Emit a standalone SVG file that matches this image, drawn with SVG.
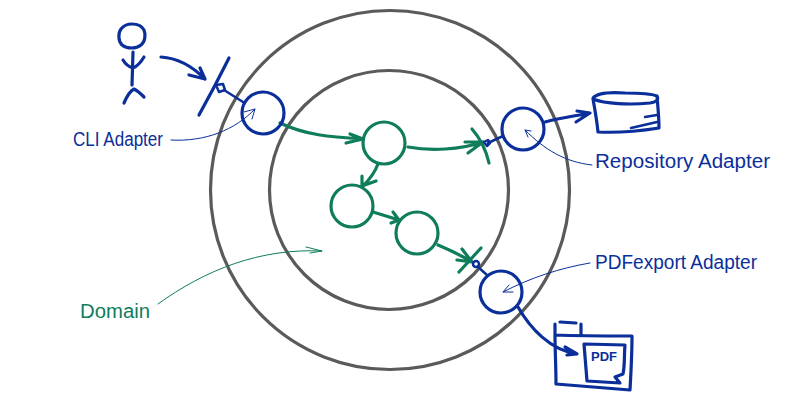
<svg xmlns="http://www.w3.org/2000/svg" width="800" height="400" viewBox="0 0 800 400">
<style>
text{font-family:"Liberation Sans",Arial,sans-serif}
path,circle,ellipse{fill:none;stroke-linecap:round;stroke-linejoin:round}
.ring{stroke:#5a5a5a;stroke-width:3.2}
.b{stroke:#0b2f9a;stroke-width:3.2}
.bt{stroke:#0b2f9a;stroke-width:2.5}
.g{stroke:#0f7d5c;stroke-width:3.2}
.lb{stroke:#0b2f9a;stroke-width:1}
.lg{stroke:#0f7d5c;stroke-width:1}
.tb{fill:#0b2f9a;font-size:20px}
.tg{fill:#0f7d5c;font-size:20px}
</style>
<rect width="800" height="400" fill="#ffffff"/>
<g id="application-ring"><circle class="ring" cx="390" cy="190" r="179.500"/></g>
<g id="domain-ring"><circle class="ring" cx="389" cy="190" r="119.500"/></g>
<g id="connectors">
<path class="b" d="M161 57C178 58 192 66 205 79M189 75L205 79L200 68"/>
<path class="bt" d="M224 90L243 102"/>
<path class="g" d="M280 123C305 135 330 137 363 139M350 134L363 139L346 143"/>
<path class="g" d="M408 147C430 151 460 150 483 142M465 142L483 142L468 153"/>
<path class="g" d="M378 164C375 172 370 179 363 186M362 176L362 186L376 181"/>
<path class="g" d="M373 212L399 220M393 212L399 220L391 223"/>
<path class="g" d="M438 245C450 250 462 256 472 262M462 249L472 262L457 260"/>
<path class="bt" d="M488 143L503 136"/>
<path class="bt" d="M478 267L487 275"/>
<path class="b" d="M545 122C560 118 575 116 590 113M577 111L590 113L576 122"/>
<path class="b" d="M518 307C530 328 550 350 577 354M565 347L577 354L567 355"/>
<path class="lb" d="M171 140C205 142 235 130 255 109M244 112L255 109L252 119"/>
<path class="lb" d="M592 165C565 162 545 150 525 130M531 131L525 130L528 137"/>
<path class="lb" d="M590 263C560 268 530 278 503 292M509 285L503 292L513 292"/>
<path class="lg" d="M158 304C205 270 260 248 322 251M306 247L322 251L310 253"/>
</g>
<g id="actor">
<path class="b" d="M132 24C138 24 142 26 144 30C146 35 145 42 141 45C136 49 127 49 122 45C118 41 118 33 121 29C124 25 128 24 132 24Z"/>
<path class="b" d="M133 52L132 85M123 60C126 65 129 67 133 68C138 66 141 62 144 57M124 103C127 96 130 91 134 89C138 91 141 94 144 97"/>
</g>
<g id="cli-socket">
<path class="b" d="M229 58C219 78 209 97 199 115"/>
<path class="bt" d="M216 85L223 84L225 90L219 92Z"/>
</g>
<g id="cli-adapter"><circle class="b" cx="263" cy="113" r="21"/><text class="tb" x="73" y="146" textLength="90" lengthAdjust="spacingAndGlyphs">CLI Adapter</text></g>
<g id="use-case-1"><circle class="g" cx="384" cy="143" r="21"/></g>
<g id="use-case-2"><circle class="g" cx="352" cy="206" r="21"/></g>
<g id="use-case-3"><circle class="g" cx="417" cy="233" r="21"/></g>
<g id="domain-label"><text class="tg" x="80" y="318" textLength="70" lengthAdjust="spacingAndGlyphs">Domain</text></g>
<g id="repo-port">
<path class="g" d="M472 129C480 138 486 150 489 163"/>
<path class="bt" d="M484 142L488 140L490 143L487 146Z"/>
</g>
<g id="repository-adapter"><circle class="b" cx="523" cy="129" r="21"/><text class="tb" x="595" y="168" textLength="175" lengthAdjust="spacingAndGlyphs">Repository Adapter</text></g>
<g id="database">
<path class="b" d="M593 98C598 92 612 92 625 93C640 93 652 94 657 96C659 100 656 102 650 103C630 105 605 104 593 99C595 110 597 122 598 132C618 133 640 131 659 128C659 118 658 108 657 96"/>
<path class="bt" d="M645 117L657 115M631 128L657 122"/>
</g>
<g id="pdf-port">
<path class="g" d="M481 248L459 272"/>
<circle class="bt" cx="476" cy="264" r="3"/>
</g>
<g id="pdf-adapter"><circle class="b" cx="501" cy="292" r="21"/><text class="tb" x="595" y="269" textLength="162" lengthAdjust="spacingAndGlyphs">PDFexport Adapter</text></g>
<g id="pdf-folder">
<path class="b" d="M555 335L555 324M560 322L576 323M581 324L581 335M555 335C580 336 610 336 632 336C632 355 631 372 630 390C605 388 580 386 556 384C556 368 555 350 555 335Z"/>
<path class="b" d="M584 344L625 345C624 355 625 365 623 374L615 377L620 383L587 381C586 368 585 356 584 344Z"/>
<text x="591" y="361" font-size="12" font-weight="700" fill="#0b2f9a" textLength="26" lengthAdjust="spacingAndGlyphs">PDF</text>
</g>
</svg>
